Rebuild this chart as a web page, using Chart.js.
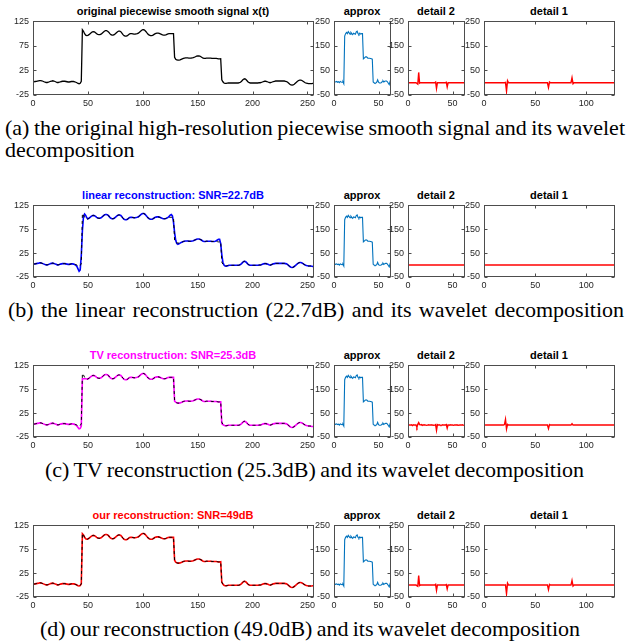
<!DOCTYPE html>
<html><head><meta charset="utf-8">
<script src="https://cdn.jsdelivr.net/npm/chart.js@4/dist/chart.umd.min.js"></script>
<style>
body{margin:0;background:#fff;width:633px;height:642px;position:relative;overflow:hidden}
canvas{position:absolute}
.t{position:absolute;font:bold 11px "Liberation Sans",Arial,sans-serif;white-space:nowrap;transform:translate(-50%,-50%)}
.cap{position:absolute;font-family:"Liberation Serif","Times New Roman",serif;font-size:22px;line-height:22px;color:#000;white-space:nowrap}
</style></head><body>
<div class="t" style="left:173px;top:11px;color:#000">original piecewise smooth signal x(t)</div>
<div class="t" style="left:362px;top:11px">approx</div>
<div class="t" style="left:436px;top:11px">detail 2</div>
<div class="t" style="left:549px;top:11px">detail 1</div>
<div class="t" style="left:173px;top:195px;color:#0000ff">linear reconstruction: SNR=22.7dB</div>
<div class="t" style="left:362px;top:195px">approx</div>
<div class="t" style="left:436px;top:195px">detail 2</div>
<div class="t" style="left:549px;top:195px">detail 1</div>
<div class="t" style="left:173px;top:355px;color:#ff00ff">TV reconstruction: SNR=25.3dB</div>
<div class="t" style="left:362px;top:355px">approx</div>
<div class="t" style="left:436px;top:355px">detail 2</div>
<div class="t" style="left:549px;top:355px">detail 1</div>
<div class="t" style="left:173px;top:515px;color:#ff0000">our reconstruction: SNR=49dB</div>
<div class="t" style="left:362px;top:515px">approx</div>
<div class="t" style="left:436px;top:515px">detail 2</div>
<div class="t" style="left:549px;top:515px">detail 1</div>
<div class="cap fit" data-l="5" data-r="625" style="left:5px;top:117px">(a) the original high-resolution piecewise smooth signal and its wavelet</div>
<div class="cap" style="left:5px;top:139px">decomposition</div>
<div class="cap fit" data-l="8" data-r="624" style="left:8px;top:299px">(b) the linear reconstruction (22.7dB) and its wavelet decomposition</div>
<div class="cap fit" data-l="45" data-r="584" style="left:45px;top:459px">(c) TV reconstruction (25.3dB) and its wavelet decomposition</div>
<div class="cap fit" data-l="40" data-r="580" style="left:40px;top:618px">(d) our reconstruction (49.0dB) and its wavelet decomposition</div>
<script>
// ---------------- data ----------------
const xTicksSignal = [0, 50, 100, 150, 200, 250];
const xTicksCoef64 = [0, 50];
const xTicksCoef128 = [0, 50, 100];
const yTicksSignal = [-25, 25, 75, 125];
const yTicksCoef = [-50, 50, 150, 250];

const originalSignal = [
 2, 2.5, 3, 3.5, 4, 4.5, 4.5, 4, 3, 2,
 1, 0.5, 0.5, 1, 2, 3, 3.5, 4, 3.5, 2.5,
 1.5, 0.5, 0.5, 1, 2, 2.5, 3, 3, 3, 2.5,
 2, 1.5, 1.5, 2, 2.5, 2.5, 2.5, 2, 1, 0,
 -1.5, -2, -1, 3, 108, 105, 100, 97, 96, 96.5,
 98, 100, 102, 103.5, 104, 103.5, 102, 100, 98.5, 98,
 98, 99, 101, 103, 105, 106, 106, 105, 103, 100,
 98, 97, 97, 98, 100, 102, 104, 105, 105, 104,
 101, 98, 96, 95, 95, 96, 98, 99.5, 100, 100,
 99.5, 99, 99, 99.5, 100, 101, 103, 105, 107, 108,
 108, 106.5, 104, 101, 98.5, 97, 96, 96, 96.5, 98,
 99.5, 100.5, 101, 101, 100.5, 99.5, 98.5, 97.5, 97, 97,
 97.5, 98.5, 99.5, 100, 100, 100, 100, 100, 52, 48,
 46.5, 46, 46, 46.5, 47.5, 48.5, 49.5, 50, 50.5, 50.5,
 50.5, 50, 50, 50, 50.5, 51, 52, 53, 54, 54.5,
 54.5, 54, 53, 51.5, 50, 49.5, 49.5, 50, 50, 50,
 50, 50, 49.5, 49.5, 49.5, 49.5, 49.5, 49, 48.5, 48.5,
 49, 6, 2, -0.5, -1.5, -1.5, -1, -0.5, -0.5, -0.5,
 -0.5, -0.5, -0.5, -0.5, -0.5, -0.5, -0.5, 0, 1, 3,
 5.5, 7.5, 8, 6.5, 4, 1.5, 0, -0.5, -0.5, -0.5,
 -0.5, -0.5, -0.5, -0.5, -0.5, 0, 0, 0.5, 1.5, 2.5,
 3, 3, 2.5, 1.5, 0.5, 0, 0.5, 1.5, 2.5, 3,
 3.5, 3.5, 3.5, 3.5, 3.5, 3.5, 3.5, 3.5, 3.5, 3,
 2.5, 1, -1, -3, -4.5, -5, -4.5, -3, -1, 1,
 3, 4.5, 5.5, 5.5, 4.5, 3, 1.5, 0, -1, -1.5,
 -2, -2, -2, -2, -1.5, -1
];

const linearReconstruction = [
 2.5, 2.5, 3, 3.5, 4, 4.5, 4.5, 4, 3, 2,
 1, 0.5, 0.5, 1, 2, 3, 3.5, 4, 3.5, 2.5,
 1.5, 0.5, 0.5, 1, 2, 2.5, 3, 3, 3, 2.5,
 2, 1.5, 1.5, 2, 2.5, 2.5, 2, 1, -0.5, -3,
 -8, -13, -10, 20, 72, 102, 107, 104, 99, 97,
 98, 100, 102, 103.5, 104, 103.5, 102, 100, 98.5, 98,
 98, 99, 101, 103, 105, 106, 106, 105, 103, 100,
 98, 97, 97, 98, 100, 102, 104, 105, 105, 104,
 101, 98, 96, 95, 95, 96, 98, 99.5, 100, 100,
 99.5, 99, 99, 99.5, 100, 101, 103, 105, 107, 108,
 108, 106.5, 104, 101, 98.5, 97, 96, 96, 96.5, 98,
 99.5, 100.5, 101, 101, 100.5, 99.5, 98.5, 97.5, 97, 97,
 97.5, 98.5, 100, 102, 104.5, 106, 103, 90, 68, 52,
 45, 43.5, 44.5, 46, 47.5, 48.5, 49.5, 50, 50.5, 50.5,
 50.5, 50, 50, 50, 50.5, 51, 52, 53, 54, 54.5,
 54.5, 54, 53, 51.5, 50, 49.5, 49.5, 50, 50, 50,
 50, 50, 49.5, 49.5, 49.5, 50, 51, 52.5, 54, 54,
 45, 22, 6, 0, -2, -2.5, -2, -1, -0.5, -0.5,
 -0.5, -0.5, -0.5, -0.5, -0.5, -0.5, -0.5, 0, 1, 3,
 5.5, 7.5, 8, 6.5, 4, 1.5, 0, -0.5, -0.5, -0.5,
 -0.5, -0.5, -0.5, -0.5, -0.5, 0, 0, 0.5, 1.5, 2.5,
 3, 3, 2.5, 1.5, 0.5, 0, 0.5, 1.5, 2.5, 3,
 3.5, 3.5, 3.5, 3.5, 3.5, 3.5, 3.5, 3.5, 3.5, 3,
 2.5, 1, -1, -3, -4.5, -5, -4.5, -3, -1, 1,
 3, 4.5, 5.5, 5.5, 4.5, 3, 1.5, 0, -1, -1.5,
 -2, -2, -2, -2.5, -3, -3
];

const tvReconstruction = [
 2, 2.5, 3, 3.5, 4, 4.5, 4.5, 4, 3, 2,
 1, 0.5, 0.5, 1, 2, 3, 3.5, 4, 3.5, 2.5,
 1.5, 0.5, 0.5, 1, 2, 2.5, 3, 3, 3, 2.5,
 2, 1.5, 1.5, 2, 2.5, 2.5, 2, 1, 0, -2,
 -5, -8, -7, -2, 97, 97, 97, 97, 96.5, 96.5,
 98, 100, 102, 103.5, 104, 103.5, 102, 100, 98.5, 98,
 98, 99, 101, 103, 105, 106, 106, 105, 103, 100,
 98, 97, 97, 98, 100, 102, 104, 105, 105, 104,
 101, 98, 96, 95, 95, 96, 98, 99.5, 100, 100,
 99.5, 99, 99, 99.5, 100, 101, 103, 105, 107, 108,
 108, 106.5, 104, 101, 98.5, 97, 96, 96, 96.5, 98,
 99.5, 100.5, 101, 101, 100.5, 99.5, 98.5, 97.5, 97, 97,
 97.5, 98.5, 99.5, 100, 100, 100, 100, 100, 50, 48,
 46.5, 46, 46, 46.5, 47.5, 48.5, 49.5, 50, 50.5, 50.5,
 50.5, 50, 50, 50, 50.5, 51, 52, 53, 54, 54.5,
 54.5, 54, 53, 51.5, 50, 49.5, 49.5, 50, 50, 50,
 50, 50, 49.5, 49.5, 49.5, 49.5, 49.5, 49, 48.5, 48.5,
 48.5, 3, 1, -0.5, -1.5, -1.5, -1, -0.5, -0.5, -0.5,
 -0.5, -0.5, -0.5, -0.5, -0.5, -0.5, -0.5, 0, 1, 3,
 5.5, 7.5, 8, 6.5, 4, 1.5, 0, -0.5, -0.5, -0.5,
 -0.5, -0.5, -0.5, -0.5, -0.5, 0, 0, 0.5, 1.5, 2.5,
 3, 3, 2.5, 1.5, 0.5, 0, 0.5, 1.5, 2.5, 3,
 3.5, 3.5, 3.5, 3.5, 3.5, 3.5, 3.5, 3.5, 3.5, 3,
 2.5, 1, -1, -3, -4.5, -5, -4.5, -3, -1, 1,
 3, 4.5, 5.5, 5.5, 4.5, 3, 1.5, 0, -1, -1.5,
 -2, -2, -2.5, -3, -3, -3
];

const ourReconstruction = [
 2, 2.5, 3, 3.5, 4, 4.5, 4.5, 4, 3, 2,
 1, 0.5, 0.5, 1, 2, 3, 3.5, 4, 3.5, 2.5,
 1.5, 0.5, 0.5, 1, 2, 2.5, 3, 3, 3, 2.5,
 2, 1.5, 1.5, 2, 2.5, 2.5, 2.5, 2, 1, 0,
 -1.5, -2, -1, 2.5, 107.5, 105, 100, 97, 96, 96.5,
 98, 100, 102, 103.5, 104, 103.5, 102, 100, 98.5, 98,
 98, 99, 101, 103, 105, 106, 106, 105, 103, 100,
 98, 97, 97, 98, 100, 102, 104, 105, 105, 104,
 101, 98, 96, 95, 95, 96, 98, 99.5, 100, 100,
 99.5, 99, 99, 99.5, 100, 101, 103, 105, 107, 108,
 108, 106.5, 104, 101, 98.5, 97, 96, 96, 96.5, 98,
 99.5, 100.5, 101, 101, 100.5, 99.5, 98.5, 97.5, 97, 97,
 97.5, 98.5, 99.5, 100, 100, 100, 100, 100, 52, 48,
 46.5, 46, 46, 46.5, 47.5, 48.5, 49.5, 50, 50.5, 50.5,
 50.5, 50, 50, 50, 50.5, 51, 52, 53, 54, 54.5,
 54.5, 54, 53, 51.5, 50, 49.5, 49.5, 50, 50, 50,
 50, 50, 49.5, 49.5, 49.5, 49.5, 49.5, 49, 48.5, 48.5,
 49, 6, 2, -0.5, -1.5, -1.5, -1, -0.5, -0.5, -0.5,
 -0.5, -0.5, -0.5, -0.5, -0.5, -0.5, -0.5, 0, 1, 3,
 5.5, 7.5, 8, 6.5, 4, 1.5, 0, -0.5, -0.5, -0.5,
 -0.5, -0.5, -0.5, -0.5, -0.5, 0, 0, 0.5, 1.5, 2.5,
 3, 3, 2.5, 1.5, 0.5, 0, 0.5, 1.5, 2.5, 3,
 3.5, 3.5, 3.5, 3.5, 3.5, 3.5, 3.5, 3.5, 3.5, 3,
 2.5, 1, -1, -3, -4.5, -5, -4.5, -3, -1, 1,
 3, 4.5, 5.5, 5.5, 4.5, 3, 1.5, 0, -1, -1.5,
 -2, -2, -2, -2, -1.5, -1
];

// approximation coefficients (level 2), 64 values
const approxCoef = [
 4, 3, 5, 2, 4, 0, 5, 3, 2, 4,
 -4, 190, 200, 205, 200, 208, 203, 198, 205, 200,
 196, 202, 200, 198, 207, 210, 200, 196, 202, 198,
 200, 200, 97, 100, 104, 106, 104, 100, 100, 100,
 99, 98, 96, 3, 0, -2, -1, 2, 12, 2,
 -1, -1, 0, 4, 8, 3, 6, 7, 7, 4,
 -2, -8, 6, 2
];

// detail 2 coefficients (64 values)
const detail2Original = [
 0, 0, 0, 0, 0, 0, 0, 0, 0, 0,
 -6, 42, -2, 0, 0, 0, 0, 0, 0, 0,
 0, 0, 0, 0, 0, 0, 0, 0, 0, 0,
 3, -23, 0, 0, 0, 0, 0, 0, 0, 0,
 0, 0, 2, -17, 0, 0, 0, 0, 0, 0,
 0, 0, 0, 0, 0, 0, 0, 0, 0, 0,
 0, 0, 0, 0
];
const detail2Linear = [
 0, 0, 0, 0, 0, 0, 0, 0, 0, 0,
 0, 0, 0, 0, 0, 0, 0, 0, 0, 0,
 0, 0, 0, 0, 0, 0, 0, 0, 0, 0,
 0, 0, 0, 0, 0, 0, 0, 0, 0, 0,
 0, 0, 0, 0, 0, 0, 0, 0, 0, 0,
 0, 0, 0, 0, 0, 0, 0, 0, 0, 0,
 0, 0, 0, 0
];
const detail2TV = [
 0, 0, 0, 1, -2, 1, 0, 0, 0, -9,
 3, 10, 2, 1, 2, -1, 1, 0, 1, 0,
 -1, 0, 1, 0, 0, 1, 0, 0, -1, 0,
 2, -22, 2, 0, 1, 0, -1, 0, 1, 0,
 0, 0, 2, -13, 1, 0, 0, 1, 0, 0,
 -1, 0, 0, 1, 0, 0, -1, 0, 0, 0,
 1, 0, -1, 0
];
const detail2Ours = [
 0, 0, 0, 0, 0, 0, 0, 0, 0, 0,
 -5, 40, -2, 0, 0, 0, 0, 0, 0, 0,
 0, 0, 0, 0, 0, 0, 0, 0, 0, 0,
 3, -22, 0, 0, 0, 0, 0, 0, 0, 0,
 0, 0, 2, -16, 0, 0, 0, 0, 0, 0,
 0, 0, 0, 0, 0, 0, 0, 0, 0, 0,
 0, 0, 0, 0
];

// detail 1 coefficients (128 values)
const detail1Original = [
 0, 0, 0, 0, 0, 0, 0, 0, 0, 0,
 0, 0, 0, 0, 0, 0, 0, 0, 0, 0,
 1, -34, 8, 0, 0, 0, 0, 0, 0, 0,
 0, 0, 0, 0, 0, 0, 0, 0, 0, 0,
 0, 0, 0, 0, 0, 0, 0, 0, 0, 0,
 0, 0, 0, 0, 0, 0, 0, 0, 0, 0,
 0, 0, -19, 3, 0, 0, 0, 0, 0, 0,
 0, 0, 0, 0, 0, 0, 0, 0, 0, 0,
 0, 0, 0, 0, 0, 20, -4, 0, 0, 0,
 0, 0, 0, 0, 0, 0, 0, 0, 0, 0,
 0, 0, 0, 0, 0, 0, 0, 0, 0, 0,
 0, 0, 0, 0, 0, 0, 0, 0, 0, 0,
 0, 0, 0, 0, 0, 0, 0, 0
];
const detail1Linear = [
 0, 0, 0, 0, 0, 0, 0, 0, 0, 0,
 0, 0, 0, 0, 0, 0, 0, 0, 0, 0,
 0, 0, 0, 0, 0, 0, 0, 0, 0, 0,
 0, 0, 0, 0, 0, 0, 0, 0, 0, 0,
 0, 0, 0, 0, 0, 0, 0, 0, 0, 0,
 0, 0, 0, 0, 0, 0, 0, 0, 0, 0,
 0, 0, 0, 0, 0, 0, 0, 0, 0, 0,
 0, 0, 0, 0, 0, 0, 0, 0, 0, 0,
 0, 0, 0, 0, 0, 0, 0, 0, 0, 0,
 0, 0, 0, 0, 0, 0, 0, 0, 0, 0,
 0, 0, 0, 0, 0, 0, 0, 0, 0, 0,
 0, 0, 0, 0, 0, 0, 0, 0, 0, 0,
 0, 0, 0, 0, 0, 0, 0, 0
];
const detail1TV = [
 0, 0, 0, 0, 0, 0, 0, 0, 0, 0,
 0, 0, 0, 0, 0, 0, 0, 0, 0, 2,
 24, -16, 3, 0, 0, 0, 0, 0, 0, 0,
 0, 0, 0, 0, 0, 0, 0, 0, 0, 0,
 0, 0, 0, 0, 0, 0, 0, 0, 0, 0,
 0, 0, 0, 0, 0, 0, 0, 0, 0, 0,
 0, 0, -15, 2, 0, 0, 0, 0, 0, 0,
 0, 0, 0, 0, 0, 0, 0, 0, 0, 0,
 0, 0, 0, 0, 0, 6, 0, 0, 0, 0,
 0, 0, 0, 0, 0, 0, 0, 0, 0, 0,
 0, 0, 0, 0, 0, 0, 0, 0, 0, 0,
 0, 0, 0, 0, 0, 0, 0, 0, 0, 0,
 0, 0, 0, 0, 0, 0, 0, 0
];
const detail1Ours = [
 0, 0, 0, 0, 0, 0, 0, 0, 0, 0,
 0, 0, 0, 0, 0, 0, 0, 0, 0, 0,
 1, -36, 8, 0, 0, 0, 0, 0, 0, 0,
 0, 0, 0, 0, 0, 0, 0, 0, 0, 0,
 0, 0, 0, 0, 0, 0, 0, 0, 0, 0,
 0, 0, 0, 0, 0, 0, 0, 0, 0, 0,
 0, 0, -19, 3, 0, 0, 0, 0, 0, 0,
 0, 0, 0, 0, 0, 0, 0, 0, 0, 0,
 0, 0, 0, 0, 0, 19, -4, 0, 0, 0,
 0, 0, 0, 0, 0, 0, 0, 0, 0, 0,
 0, 0, 0, 0, 0, 0, 0, 0, 0, 0,
 0, 0, 0, 0, 0, 0, 0, 0, 0, 0,
 0, 0, 0, 0, 0, 0, 0, 0
];

// ---------------- captions: stretch words to the reference line extents ----------------
document.querySelectorAll('.fit').forEach(el => {
  const target = (+el.dataset.r) - (+el.dataset.l);
  const natural = el.getBoundingClientRect().width;
  const gaps = (el.textContent.match(/ /g) || []).length;
  if (gaps > 0) el.style.wordSpacing = ((target - natural) / gaps) + 'px';
});

// ---------------- layout & drawing ----------------
Chart.defaults.font.family = '"Liberation Sans", Arial, Helvetica, sans-serif';
Chart.defaults.color = '#262626';

const PANEL = {
  main:   {left: 33,  width: 281, xMax: 256, xTicks: xTicksSignal},
  approx: {left: 334, width: 57,  xMax: 64,  xTicks: xTicksCoef64},
  d2:     {left: 408, width: 57,  xMax: 64,  xTicks: xTicksCoef64},
  d1:     {left: 484, width: 131, xMax: 128, xTicks: xTicksCoef128}
};
const ROWS = [{top: 20, h: 75}, {top: 204, h: 73}, {top: 364, h: 73}, {top: 524, h: 73}];

const boxPlugin = {
  id: 'matlabBox',
  afterDraw(chart) {
    const {ctx, chartArea: a, scales: {x, y}} = chart;
    ctx.save();
    ctx.strokeStyle = '#4d4d4d';
    ctx.lineWidth = 1;
    const L = Math.round(a.left) + 0.5, R = Math.round(a.right) - 0.5;
    const T = Math.round(a.top) + 0.5, B = Math.round(a.bottom) - 0.5;
    ctx.strokeRect(L, T, R - L, B - T);
    const len = 3;
    ctx.beginPath();
    x.ticks.forEach(t => {
      const px = Math.round(x.getPixelForValue(t.value)) + 0.5;
      ctx.moveTo(px, B); ctx.lineTo(px, B - len);
      ctx.moveTo(px, T); ctx.lineTo(px, T + len);
    });
    y.ticks.forEach(t => {
      const py = Math.round(y.getPixelForValue(t.value)) + 0.5;
      ctx.moveTo(L, py); ctx.lineTo(L + len, py);
      ctx.moveTo(R, py); ctx.lineTo(R - len, py);
    });
    ctx.stroke();
    ctx.restore();
  }
};

function toXY(arr) { return arr.map((v, i) => ({x: i + 1, y: v})); }

function makeChart(p, r, datasets, yMin, yMax, yTicks) {
  const padL = 34, padT = 8, padR = 10, padB = 16;
  const c = document.createElement('canvas');
  const w = p.width + padL + padR, h = r.h + padT + padB;
  c.width = w; c.height = h;
  c.style.width = w + 'px'; c.style.height = h + 'px';
  c.style.left = (p.left - padL) + 'px';
  c.style.top = (r.top - padT) + 'px';
  document.body.appendChild(c);
  new Chart(c, {
    type: 'line',
    data: {datasets},
    options: {
      responsive: false, animation: false, devicePixelRatio: 1,
      layout: {padding: {top: padT, right: padR, left: 0, bottom: 0}},
      plugins: {legend: {display: false}, tooltip: {enabled: false}, title: {display: false}},
      elements: {point: {radius: 0}, line: {tension: 0}},
      scales: {
        x: {
          type: 'linear', min: 0, max: p.xMax,
          grid: {display: false, drawTicks: false}, border: {display: false},
          ticks: {padding: 3, font: {size: 9}, maxRotation: 0, autoSkip: false, color: '#262626'},
          afterBuildTicks: s => { s.ticks = p.xTicks.map(v => ({value: v})); },
          afterFit: s => { s.height = padB; }
        },
        y: {
          type: 'linear', min: yMin, max: yMax,
          grid: {display: false, drawTicks: false}, border: {display: false},
          ticks: {padding: 4, font: {size: 9}, autoSkip: false, color: '#262626'},
          afterBuildTicks: s => { s.ticks = yTicks.map(v => ({value: v})); },
          afterFit: s => { s.width = padL; }
        }
      }
    },
    plugins: [boxPlugin]
  });
}

const rowsData = [
  {recon: null, color: null, d2: detail2Original, d1: detail1Original},
  {recon: linearReconstruction, color: '#0000ff', d2: detail2Linear, d1: detail1Linear},
  {recon: tvReconstruction, color: '#ff00ff', d2: detail2TV, d1: detail1TV},
  {recon: ourReconstruction, color: '#ff0000', d2: detail2Ours, d1: detail1Ours}
];

rowsData.forEach((rd, i) => {
  const r = ROWS[i];
  let ds;
  if (!rd.recon) {
    ds = [{data: toXY(originalSignal), borderColor: '#000', borderWidth: 1.3, fill: false}];
  } else {
    ds = [
      {data: toXY(originalSignal), borderColor: '#000', borderWidth: 1, borderDash: [3, 3], fill: false, order: 0},
      {data: toXY(rd.recon), borderColor: rd.color, borderWidth: 1.6, fill: false, order: 1}
    ];
  }
  makeChart(PANEL.main, r, ds, -25, 125, yTicksSignal);
  makeChart(PANEL.approx, r, [{data: toXY(approxCoef), borderColor: '#0072bd', borderWidth: 1.1, fill: false}], -50, 250, yTicksCoef);
  makeChart(PANEL.d2, r, [{data: toXY(rd.d2), borderColor: '#ff0000', borderWidth: 1.4, fill: false}], -50, 250, yTicksCoef);
  makeChart(PANEL.d1, r, [{data: toXY(rd.d1), borderColor: '#ff0000', borderWidth: 1.4, fill: false}], -50, 250, yTicksCoef);
});
</script>
</body></html>
